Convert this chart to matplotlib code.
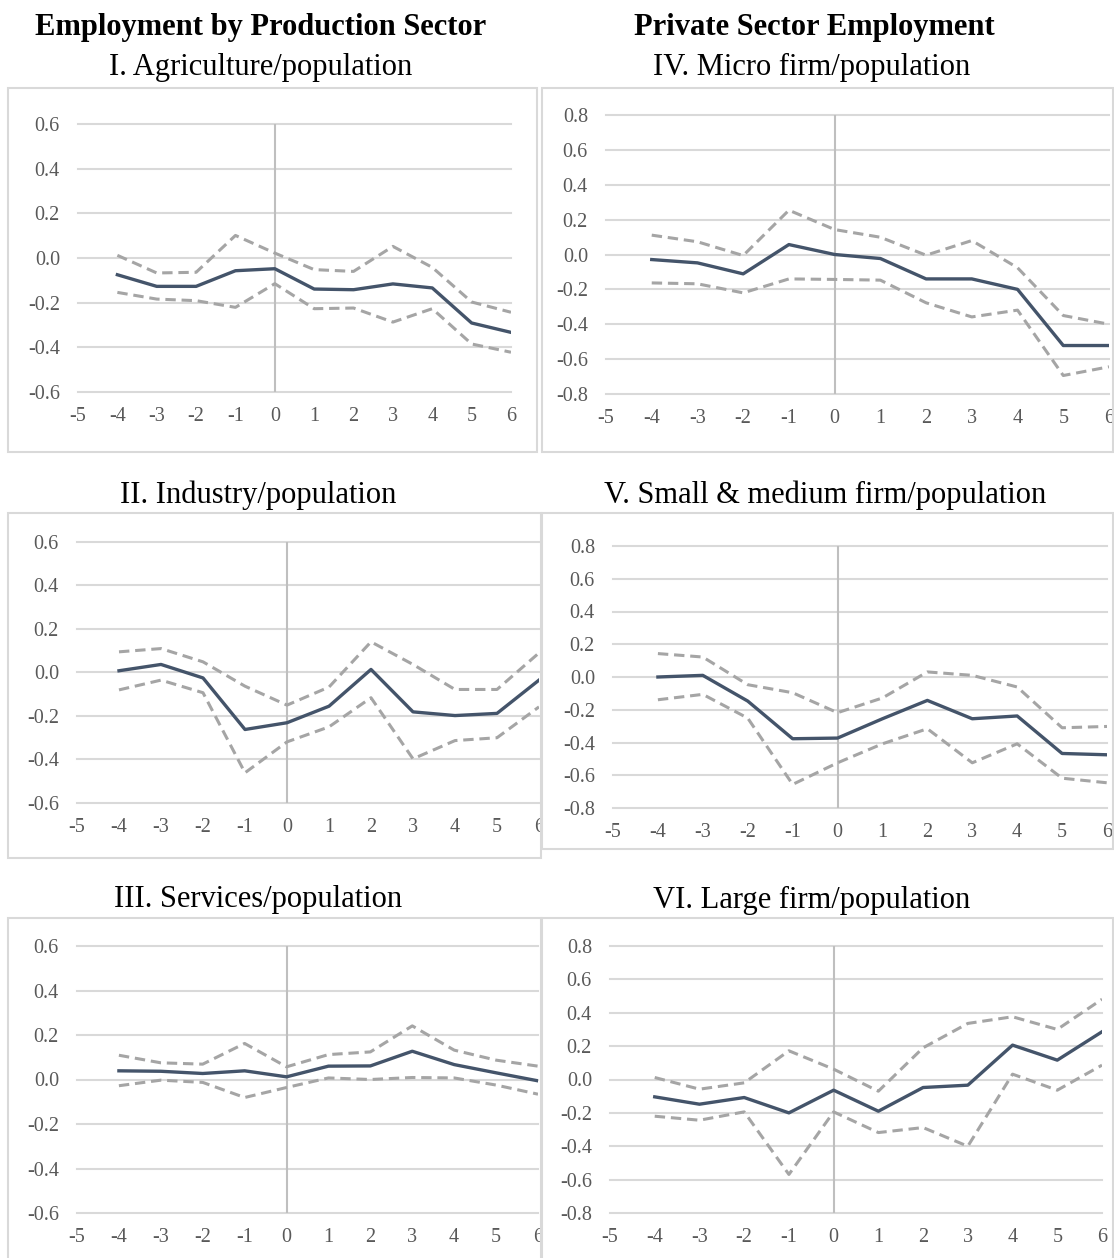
"""
Event-study panels: employment by production sector and private sector employment
"""
import matplotlib
matplotlib.use("Agg")
import matplotlib.pyplot as plt
from matplotlib.patches import Rectangle
from matplotlib.transforms import Bbox, TransformedBbox

plt.rcParams['font.family'] = ['Liberation Serif', 'DejaVu Serif']

# ======================== data ========================
years = [-4, -3, -2, -1, 0, 1, 2, 3, 4, 5, 6]

agri_est = [-0.075, -0.127, -0.127, -0.057, -0.048, -0.139, -0.142, -0.116, -0.134, -0.291, -0.333]
agri_hi = [0.012, -0.067, -0.064, 0.101, 0.022, -0.052, -0.060, 0.052, -0.042, -0.197, -0.243]
agri_lo = [-0.154, -0.184, -0.191, -0.221, -0.115, -0.227, -0.224, -0.287, -0.227, -0.385, -0.422]

ind_est = [0.008, 0.037, -0.025, -0.262, -0.231, -0.155, 0.014, -0.181, -0.198, -0.188, -0.035]
ind_hi = [0.095, 0.110, 0.049, -0.063, -0.150, -0.067, 0.141, 0.037, -0.078, -0.078, 0.090]
ind_lo = [-0.080, -0.035, -0.093, -0.461, -0.319, -0.250, -0.116, -0.397, -0.313, -0.300, -0.158]

serv_est = [0.039, 0.037, 0.027, 0.039, 0.012, 0.060, 0.061, 0.127, 0.067, 0.030, -0.006]
serv_hi = [0.109, 0.075, 0.069, 0.162, 0.057, 0.112, 0.124, 0.241, 0.132, 0.087, 0.060]
serv_lo = [-0.028, -0.003, -0.013, -0.081, -0.036, 0.007, 0.000, 0.009, 0.007, -0.025, -0.066]

micro_est = [-0.029, -0.048, -0.111, 0.057, 0.000, -0.023, -0.140, -0.140, -0.200, -0.522, -0.522]
micro_hi = [0.111, 0.073, -0.006, 0.254, 0.143, 0.099, -0.004, 0.080, -0.076, -0.350, -0.400]
micro_lo = [-0.163, -0.168, -0.220, -0.140, -0.143, -0.147, -0.277, -0.358, -0.319, -0.694, -0.644]

sme_est = [0.000, 0.010, -0.147, -0.377, -0.373, -0.255, -0.143, -0.255, -0.238, -0.467, -0.475]
sme_hi = [0.143, 0.122, -0.047, -0.096, -0.218, -0.128, 0.031, 0.010, -0.061, -0.310, -0.302]
sme_lo = [-0.139, -0.106, -0.251, -0.656, -0.524, -0.408, -0.316, -0.524, -0.408, -0.618, -0.646]

large_est = [-0.104, -0.148, -0.108, -0.200, -0.064, -0.190, -0.048, -0.034, 0.206, 0.116, 0.286]
large_hi = [0.012, -0.058, -0.020, 0.172, 0.062, -0.070, 0.190, 0.336, 0.376, 0.300, 0.481]
large_lo = [-0.220, -0.244, -0.194, -0.569, -0.194, -0.318, -0.288, -0.400, 0.032, -0.064, 0.086]

x_ticks = [-5, -4, -3, -2, -1, 0, 1, 2, 3, 4, 5, 6]
y_ticks_06 = [-0.6, -0.4, -0.2, 0.0, 0.2, 0.4, 0.6]
y_ticks_08 = [-0.8, -0.6, -0.4, -0.2, 0.0, 0.2, 0.4, 0.6, 0.8]

# ======================== style ========================
W, H = 1114, 1258
C_EST = '#44546A'
C_CI = '#A5A5A5'
C_GRID = '#D9D9D9'
C_ZERO = '#BFBFBF'
C_TEXT = '#595959'
C_BOX = '#D9D9D9'

fig = plt.figure(figsize=(W / 100, H / 100), dpi=100)


def px_rect(l, t, r, b):
    return [l / W, 1 - b / H, (r - l) / W, (b - t) / H]


def add_box(l, t, r, b):
    fig.patches.append(Rectangle((l / W, 1 - b / H), (r - l) / W, (b - t) / H,
                                 transform=fig.transFigure, fill=False,
                                 edgecolor=C_BOX, linewidth=1.5, zorder=0))


def panel(rect, est, hi, lo, yticks, clip=None):
    ax = fig.add_axes(px_rect(*rect))
    ax.set_xlim(-5, 6)
    ax.set_ylim(yticks[0], yticks[-1])
    for s in ax.spines.values():
        s.set_visible(False)
    ax.set_yticks(yticks)
    ax.set_yticklabels([f'{v:.1f}' for v in yticks])
    ax.set_xticks(x_ticks)
    ax.set_xticklabels([str(v) for v in x_ticks])
    ax.tick_params(length=0, labelsize=14.5, labelcolor=C_TEXT)
    ax.tick_params(axis='y', pad=13)
    ax.tick_params(axis='x', pad=11)
    for v in yticks:
        ax.axhline(v, color=C_GRID, lw=1.5, zorder=1, clip_on=False)
    ax.axvline(0, color=C_ZERO, lw=1.5, zorder=2)
    ax.plot(years, hi, color=C_CI, lw=2.2, dashes=(3.4, 1.9), zorder=3)
    ax.plot(years, lo, color=C_CI, lw=2.2, dashes=(3.4, 1.9), zorder=3)
    ax.plot(years, est, color=C_EST, lw=2.4, zorder=4)
    if clip is not None:
        bb = TransformedBbox(Bbox.from_extents(clip[0] / W, 1 - clip[3] / H,
                                               clip[2] / W, 1 - clip[1] / H),
                             fig.transFigure)
        for lab in ax.get_xticklabels():
            lab.set_clip_on(True)
            lab.set_clip_box(bb)
    return ax


# boxes around each chart
add_box(8, 88, 537, 452)
add_box(542, 88, 1113, 452)
add_box(8, 513, 541, 858)
add_box(542, 513, 1113, 849)
add_box(8, 918, 541, 1262)
add_box(542, 918, 1113, 1262)

panel((78, 124, 511, 392), agri_est, agri_hi, agri_lo, y_ticks_06)
panel((77, 542, 539, 803), ind_est, ind_hi, ind_lo, y_ticks_06, clip=(8, 513, 541, 858))
panel((77, 946, 538, 1213), serv_est, serv_hi, serv_lo, y_ticks_06, clip=(8, 918, 541, 1262))
panel((606, 115, 1109, 394), micro_est, micro_hi, micro_lo, y_ticks_08)
panel((613, 546, 1107, 808), sme_est, sme_hi, sme_lo, y_ticks_08)
panel((610, 946, 1102, 1213), large_est, large_hi, large_lo, y_ticks_08)

# titles
TS = 22
fig.text(261 / W, 1 - 28 / H, 'Employment by Production Sector', ha='center', va='center',
         fontsize=TS, fontweight='bold')
fig.text(814 / W, 1 - 28 / H, 'Private Sector Employment', ha='center', va='center',
         fontsize=TS, fontweight='bold')
fig.text(261 / W, 1 - 67 / H, 'I. Agriculture/population', ha='center', va='center', fontsize=TS)
fig.text(812 / W, 1 - 67 / H, 'IV. Micro firm/population', ha='center', va='center', fontsize=TS)
fig.text(258 / W, 1 - 495 / H, 'II. Industry/population', ha='center', va='center', fontsize=TS)
fig.text(825 / W, 1 - 495 / H, 'V. Small & medium firm/population', ha='center', va='center',
         fontsize=TS)
fig.text(258 / W, 1 - 900 / H, 'III. Services/population', ha='center', va='center', fontsize=TS)
fig.text(812 / W, 1 - 900 / H, 'VI. Large firm/population', ha='center', va='center', fontsize=TS)

fig.savefig('out.png', dpi=100, facecolor='white')
